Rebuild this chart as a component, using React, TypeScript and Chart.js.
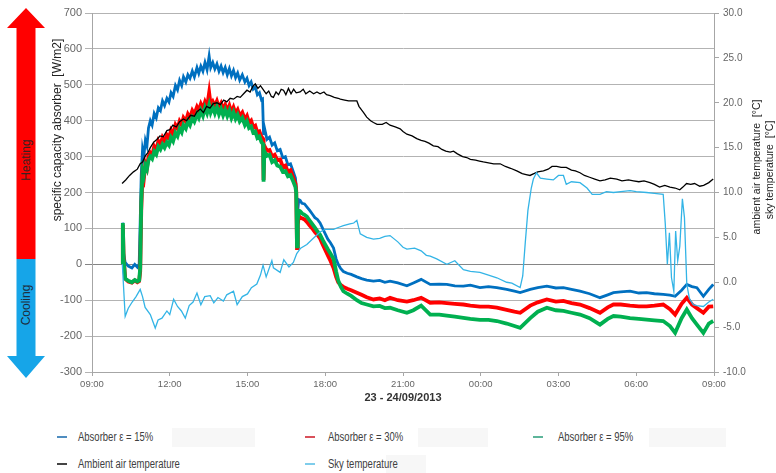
import React, { useEffect, useRef } from "react";
import { Chart, registerables } from "chart.js";

Chart.register(...registerables);

// ---- axis / label data ----
const TIME_LABELS = ["09:00", "12:00", "15:00", "18:00", "21:00", "00:00", "03:00", "06:00", "09:00"];
const X_TITLE = "23 - 24/09/2013";
const LEFT_TITLE = "specific capacity absorber  [W/m2]";
const RIGHT_TITLE_1 = "ambient air temperature  [°C]";
const RIGHT_TITLE_2 = "sky temperature  [°C]";
const SERIES_NAMES = ["Absorber ε = 15%", "Absorber ε = 30%", "Absorber ε = 95%", "Ambient air temperature", "Sky temperature"];

// ---- series: [clock hour (day 1 based), value] ----
const ABS15: [number, number][] = [
  [10.17, 0], [10.19, 116], [10.22, 30], [10.28, 5], [10.4, -5], [10.54, -10], [10.65, 0], [10.75, -8], [10.82, 0],
  [10.86, 120], [10.9, 250], [10.95, 320], [11.0, 300], [11.06, 345], [11.12, 330], [11.18, 380], [11.25, 400],
  [11.32, 388], [11.4, 420], [11.48, 408], [11.56, 436], [11.64, 428], [11.72, 455], [11.8, 442], [11.89, 462],
  [11.97, 452], [12.05, 478], [12.13, 468], [12.22, 498], [12.3, 486], [12.38, 512], [12.46, 498], [12.53, 522],
  [12.62, 508], [12.7, 528], [12.78, 518], [12.87, 538], [12.95, 522], [13.05, 548], [13.12, 532], [13.2, 552],
  [13.28, 538], [13.36, 562], [13.44, 542], [13.52, 580], [13.58, 548], [13.66, 562], [13.74, 544], [13.82, 558],
  [13.9, 538], [13.98, 552], [14.06, 534], [14.14, 548], [14.22, 528], [14.3, 545], [14.38, 525], [14.46, 540],
  [14.54, 520], [14.62, 533], [14.7, 513], [14.8, 528], [14.9, 508], [14.98, 518], [15.06, 498], [15.14, 508],
  [15.22, 488], [15.3, 494], [15.38, 472], [15.46, 478], [15.54, 458], [15.58, 460], [15.62, 360], [15.66, 378],
  [15.75, 348], [15.85, 354], [15.95, 332], [16.05, 338], [16.15, 316], [16.26, 320], [16.36, 297], [16.46, 300],
  [16.56, 277], [16.66, 280], [16.77, 257], [16.85, 240], [16.88, 215], [16.91, 60], [16.94, 150], [16.98, 180],
  [17.03, 178], [17.1, 170], [17.2, 168], [17.29, 160], [17.4, 150], [17.5, 140], [17.6, 130], [17.7, 125],
  [17.8, 115], [17.9, 100], [18.0, 85], [18.1, 70], [18.2, 60], [18.32, 45], [18.42, 15], [18.5, 0], [18.6, -12],
  [18.7, -20], [18.85, -25], [19.0, -28], [19.22, -35], [19.4, -40], [19.6, -44], [19.86, -47], [20.1, -45],
  [20.3, -50], [20.5, -47], [20.8, -52], [21.15, -60], [21.4, -52], [21.7, -42], [22.05, -56], [22.4, -55],
  [22.69, -56], [23.0, -60], [23.33, -61], [23.6, -58], [23.97, -65], [24.3, -62], [24.62, -65], [25.0, -70],
  [25.3, -75], [25.52, -79], [25.91, -70], [26.2, -65], [26.55, -61], [26.9, -66], [27.19, -65], [27.5, -70],
  [27.83, -75], [28.2, -82], [28.6, -93], [28.9, -85], [29.12, -79], [29.4, -77], [29.76, -75], [30.1, -80],
  [30.4, -79], [30.7, -82], [31.04, -84], [31.3, -86], [31.5, -89], [31.75, -72], [31.95, -56], [32.15, -62],
  [32.34, -65], [32.59, -89], [32.8, -70], [32.97, -56],
];

const ABS30: [number, number][] = [
  [10.17, 0], [10.19, 110], [10.22, 20], [10.28, -40], [10.4, -48], [10.54, -51], [10.65, -45], [10.75, -50], [10.82, -47],
  [10.86, -20], [10.9, 150], [10.95, 250], [11.0, 238], [11.06, 280], [11.12, 268], [11.18, 300], [11.25, 310],
  [11.32, 302], [11.4, 328], [11.48, 318], [11.56, 343], [11.64, 333], [11.72, 353], [11.8, 343], [11.89, 360],
  [11.97, 352], [12.05, 373], [12.13, 363], [12.22, 388], [12.3, 378], [12.38, 398], [12.46, 388], [12.53, 408],
  [12.62, 398], [12.7, 418], [12.78, 408], [12.87, 428], [12.95, 418], [13.05, 438], [13.12, 428], [13.2, 446],
  [13.28, 433], [13.36, 452], [13.44, 438], [13.52, 478], [13.58, 443], [13.66, 453], [13.74, 440], [13.82, 454],
  [13.9, 436], [13.98, 448], [14.06, 431], [14.14, 444], [14.22, 428], [14.3, 442], [14.38, 423], [14.46, 437],
  [14.54, 420], [14.62, 430], [14.7, 413], [14.8, 423], [14.9, 403], [14.98, 413], [15.06, 394], [15.14, 400],
  [15.22, 382], [15.3, 386], [15.38, 367], [15.46, 370], [15.54, 355], [15.6, 350], [15.62, 235], [15.65, 330],
  [15.75, 316], [15.85, 318], [15.95, 300], [16.05, 305], [16.15, 290], [16.26, 292], [16.36, 272], [16.46, 275],
  [16.56, 258], [16.66, 262], [16.77, 240], [16.85, 225], [16.88, 205], [16.91, 45], [16.94, 110], [16.98, 135],
  [17.03, 130], [17.1, 128], [17.2, 125], [17.29, 118], [17.4, 108], [17.5, 100], [17.6, 90], [17.7, 82],
  [17.8, 72], [17.9, 55], [18.0, 40], [18.1, 25], [18.2, 10], [18.32, -10], [18.42, -35], [18.5, -50], [18.6, -58],
  [18.7, -63], [18.85, -68], [19.0, -72], [19.22, -79], [19.4, -85], [19.6, -92], [19.86, -98], [20.1, -95],
  [20.3, -100], [20.5, -93], [20.8, -100], [21.15, -104], [21.4, -100], [21.7, -93], [22.05, -107], [22.4, -106],
  [22.69, -108], [23.0, -110], [23.33, -112], [23.6, -115], [23.97, -118], [24.3, -118], [24.62, -121], [25.0, -127],
  [25.3, -132], [25.52, -135], [25.91, -115], [26.2, -106], [26.55, -98], [26.9, -104], [27.19, -102], [27.5, -108],
  [27.83, -112], [28.2, -122], [28.6, -135], [28.9, -120], [29.12, -112], [29.4, -112], [29.76, -115], [30.1, -117],
  [30.4, -117], [30.7, -115], [31.04, -112], [31.3, -125], [31.5, -140], [31.75, -110], [31.95, -93], [32.15, -112],
  [32.34, -122], [32.59, -135], [32.8, -118], [32.97, -117],
];

const ABS95: [number, number][] = [
  [10.17, 0], [10.19, 115], [10.22, 15], [10.28, -40], [10.4, -46], [10.54, -50], [10.65, -44], [10.75, -48], [10.82, -45],
  [10.86, -10], [10.9, 170], [10.95, 260], [11.0, 248], [11.06, 275], [11.12, 265], [11.18, 290], [11.25, 300],
  [11.32, 294], [11.4, 314], [11.48, 306], [11.56, 328], [11.64, 320], [11.72, 334], [11.8, 325], [11.89, 340],
  [11.97, 332], [12.05, 353], [12.13, 343], [12.22, 366], [12.3, 357], [12.38, 378], [12.46, 368], [12.53, 388],
  [12.62, 378], [12.7, 398], [12.78, 388], [12.87, 408], [12.95, 398], [13.05, 418], [13.12, 408], [13.2, 428],
  [13.28, 414], [13.36, 436], [13.44, 421], [13.52, 443], [13.58, 423], [13.66, 438], [13.74, 421], [13.82, 438],
  [13.9, 418], [13.98, 433], [14.06, 415], [14.14, 430], [14.22, 413], [14.3, 428], [14.38, 408], [14.46, 423],
  [14.54, 405], [14.62, 416], [14.7, 398], [14.8, 408], [14.9, 388], [14.98, 398], [15.06, 380], [15.14, 384],
  [15.22, 367], [15.3, 370], [15.38, 352], [15.46, 356], [15.54, 340], [15.6, 335], [15.62, 230], [15.65, 315],
  [15.75, 302], [15.85, 305], [15.95, 285], [16.05, 290], [16.15, 275], [16.26, 272], [16.36, 258], [16.46, 260],
  [16.56, 245], [16.66, 248], [16.77, 230], [16.85, 215], [16.88, 200], [16.91, 50], [16.94, 125], [16.98, 150],
  [17.03, 148], [17.1, 142], [17.2, 138], [17.29, 133], [17.4, 122], [17.5, 112], [17.6, 102], [17.7, 92],
  [17.8, 82], [17.9, 68], [18.0, 55], [18.1, 42], [18.2, 30], [18.32, 15], [18.42, -20], [18.5, -45], [18.6, -62],
  [18.7, -75], [18.85, -82], [19.0, -88], [19.22, -100], [19.4, -108], [19.6, -112], [19.86, -117], [20.1, -116],
  [20.3, -122], [20.5, -121], [20.8, -128], [21.15, -135], [21.4, -128], [21.7, -115], [22.05, -140], [22.4, -140],
  [22.69, -143], [23.0, -146], [23.33, -149], [23.6, -152], [23.97, -155], [24.3, -155], [24.62, -158], [25.0, -165],
  [25.3, -172], [25.52, -177], [25.91, -150], [26.2, -132], [26.55, -121], [26.9, -128], [27.19, -130], [27.5, -135],
  [27.83, -140], [28.2, -150], [28.6, -168], [28.9, -152], [29.12, -144], [29.4, -146], [29.76, -150], [30.1, -152],
  [30.4, -154], [30.7, -156], [31.04, -158], [31.3, -172], [31.5, -191], [31.75, -150], [31.95, -126], [32.15, -150],
  [32.34, -168], [32.59, -191], [32.8, -165], [32.97, -158],
];

const AMBIENT: [number, number][] = [
  [10.16, 11.0], [10.3, 11.4], [10.45, 11.9], [10.6, 12.3], [10.75, 12.6], [10.86, 13.2], [10.95, 13.4], [11.06, 14.1],
  [11.15, 14.4], [11.25, 15.0], [11.38, 15.6], [11.5, 15.9], [11.62, 16.3], [11.75, 16.2], [11.89, 16.9], [12.0, 17.0],
  [12.12, 17.5], [12.25, 17.3], [12.38, 17.9], [12.53, 18.2], [12.65, 18.0], [12.8, 18.6], [12.95, 18.5], [13.05, 19.0],
  [13.18, 19.3], [13.3, 18.9], [13.42, 19.6], [13.55, 19.4], [13.68, 19.9], [13.82, 20.0], [13.95, 19.8], [14.08, 20.3],
  [14.2, 20.1], [14.33, 20.5], [14.46, 20.4], [14.6, 20.7], [14.72, 20.6], [14.85, 21.0], [14.98, 21.4], [15.1, 21.2],
  [15.2, 21.8], [15.3, 22.1], [15.4, 21.6], [15.5, 21.9], [15.62, 21.4], [15.72, 21.0], [15.82, 21.3], [15.92, 20.7],
  [16.0, 20.6], [16.1, 21.2], [16.2, 20.9], [16.3, 21.5], [16.39, 21.4], [16.48, 20.9], [16.58, 21.6], [16.68, 21.0],
  [16.78, 21.5], [16.88, 21.1], [17.03, 21.2], [17.15, 21.5], [17.25, 21.0], [17.4, 21.3], [17.55, 21.0], [17.68, 21.2],
  [17.8, 21.0], [17.95, 21.2], [18.05, 20.9], [18.19, 20.8], [18.35, 20.6], [18.5, 20.5], [18.58, 20.4], [18.75, 20.3],
  [18.9, 20.2], [19.05, 20.2], [19.22, 20.2], [19.3, 19.6], [19.4, 19.2], [19.48, 18.9], [19.6, 18.4], [19.75, 18.0],
  [19.86, 17.8], [20.0, 17.6], [20.2, 17.6], [20.35, 17.8], [20.5, 17.5], [20.7, 17.3], [20.89, 17.1], [21.0, 16.8],
  [21.15, 16.5], [21.35, 16.3], [21.53, 16.0], [21.7, 15.8], [21.85, 15.7], [22.0, 15.5], [22.17, 15.2], [22.35, 15.1],
  [22.5, 14.8], [22.65, 14.6], [22.82, 14.5], [22.95, 14.6], [23.1, 14.3], [23.3, 14.0], [23.46, 13.9], [23.6, 13.7],
  [23.8, 13.6], [23.95, 13.5], [24.1, 13.4], [24.3, 13.3], [24.5, 13.2], [24.75, 13.2], [24.95, 12.9], [25.15, 12.7],
  [25.39, 12.4], [25.6, 12.1], [25.75, 12.0], [25.9, 11.9], [26.05, 12.1], [26.2, 12.3], [26.42, 12.4], [26.6, 12.6],
  [26.75, 12.9], [26.93, 12.9], [27.1, 12.8], [27.3, 12.8], [27.5, 12.5], [27.65, 12.4], [27.83, 12.2], [28.0, 11.9],
  [28.2, 11.7], [28.4, 11.5], [28.6, 11.3], [28.8, 11.4], [29.0, 11.6], [29.25, 11.5], [29.45, 11.3], [29.7, 11.4],
  [29.89, 11.3], [30.1, 11.2], [30.3, 11.3], [30.53, 11.1], [30.7, 10.9], [30.9, 10.6], [31.1, 10.8], [31.3, 10.6],
  [31.5, 10.5], [31.68, 10.3], [31.8, 10.6], [31.94, 11.0], [32.1, 10.9], [32.25, 11.0], [32.45, 10.7], [32.6, 10.8],
  [32.8, 11.1], [32.97, 11.5],
];

const SKY: [number, number][] = [
  [10.17, 2.0], [10.28, -3.8], [10.4, -2.9], [10.55, -2.2], [10.7, -1.6], [10.86, -0.8], [10.95, -1.6], [11.05, -2.8],
  [11.25, -3.6], [11.44, -5.1], [11.55, -4.2], [11.7, -4.0], [11.89, -3.2], [12.0, -3.6], [12.15, -1.9], [12.3, -2.7],
  [12.45, -3.2], [12.6, -4.0], [12.75, -2.6], [12.9, -2.2], [13.05, -1.2], [13.2, -2.5], [13.35, -1.6], [13.56, -1.5],
  [13.7, -2.3], [13.86, -1.7], [14.07, -2.1], [14.2, -1.4], [14.46, -1.0], [14.6, -2.5], [14.8, -1.6], [15.0, -1.3],
  [15.15, -0.6], [15.36, -0.2], [15.5, 0.8], [15.6, 1.9], [15.72, 0.6], [15.94, 2.4], [16.0, 1.6], [16.26, 1.1],
  [16.4, 2.5], [16.6, 1.7], [16.77, 2.2], [16.9, 3.2], [17.05, 3.8], [17.29, 4.2], [17.5, 4.8], [17.8, 5.6],
  [18.0, 5.9], [18.32, 5.9], [18.5, 6.1], [18.7, 6.3], [18.95, 6.5], [19.1, 6.6], [19.22, 6.9], [19.35, 5.4],
  [19.6, 5.0], [19.86, 4.8], [20.1, 4.9], [20.3, 5.1], [20.5, 5.2], [20.8, 4.5], [21.0, 3.9], [21.15, 3.7],
  [21.45, 3.8], [21.7, 3.5], [21.9, 3.0], [22.05, 2.9], [22.3, 2.6], [22.69, 2.0], [23.0, 2.4], [23.33, 1.4],
  [23.6, 1.2], [23.97, 1.1], [24.3, 0.8], [24.62, 0.5], [25.0, 0.0], [25.2, -0.1], [25.52, -0.6], [25.62, 0.7],
  [25.72, 4.5], [25.82, 8.0], [25.95, 10.5], [26.03, 11.5], [26.15, 12.2], [26.3, 11.6], [26.55, 11.5], [26.8, 11.4],
  [27.0, 11.9], [27.19, 11.9], [27.3, 10.9], [27.5, 11.2], [27.83, 11.1], [28.1, 10.5], [28.3, 9.8], [28.6, 9.8],
  [28.85, 10.1], [29.12, 10.0], [29.4, 10.1], [29.76, 10.2], [30.0, 10.1], [30.4, 10.0], [30.7, 9.9], [31.04, 9.8],
  [31.12, 6.5], [31.2, 2.0], [31.28, 5.5], [31.36, 0.5], [31.45, -1.0], [31.52, 5.7], [31.6, 2.4], [31.68, 4.0],
  [31.78, 9.3], [31.86, 7.2], [31.95, -0.2], [32.05, -1.8], [32.2, -2.5], [32.34, -2.6], [32.59, -2.7], [32.8, -2.2],
  [32.97, -1.9],
];

const COLORS = ["#0070C0", "#FF0000", "#00B050", "#000000", "#33B4E6"];
const LEGEND_MARK = ["#4F8DC0", "#D9505A", "#5DB59A", "#444444", "#7FCDEB"];

const toXY = (a: [number, number][]) => a.map(([x, y]) => ({ x, y }));

const FONT = "'Liberation Sans', Arial, sans-serif";

export default function App() {
  const ref = useRef<HTMLCanvasElement | null>(null);

  useEffect(() => {
    if (!ref.current) return;
    const mk = (i: number, data: [number, number][], axis: string, width: number, order: number) => ({
      label: SERIES_NAMES[i],
      data: toXY(data),
      yAxisID: axis,
      borderColor: COLORS[i],
      backgroundColor: COLORS[i],
      borderWidth: width,
      pointRadius: 0,
      tension: 0,
      fill: false,
      order,
    });
    const chart = new Chart(ref.current, {
      type: "line",
      data: {
        datasets: [
          mk(0, ABS15, "y", 2.8, 5),
          mk(1, ABS30, "y", 3.8, 4),
          mk(2, ABS95, "y", 3.8, 3),
          mk(3, AMBIENT, "y1", 1.3, 2),
          mk(4, SKY, "y1", 1.3, 1),
        ],
      },
      options: {
        responsive: false,
        animation: false,
        devicePixelRatio: 1,
        layout: { padding: { top: 13, left: 0, right: 0, bottom: 0 } },
        plugins: { legend: { display: false }, tooltip: { enabled: false } },
        scales: {
          x: {
            type: "linear",
            min: 9,
            max: 33,
            afterFit: (s: any) => { s.height = 38; },
            ticks: {
              stepSize: 3,
              autoSkip: false,
              maxRotation: 0,
              padding: 3,
              color: "#666666",
              font: { family: FONT, size: 9.5 },
              callback: (v: any) => TIME_LABELS[Math.round((Number(v) - 9) / 3)] ?? "",
            },
            grid: { drawOnChartArea: false, drawTicks: true, tickLength: 4, color: "#A6A6A6" },
            border: { color: "#A6A6A6", width: 1 },
            title: {
              display: true,
              text: X_TITLE,
              color: "#333333",
              font: { family: FONT, size: 11, weight: "bold" },
              padding: { top: 0, bottom: 5 },
            },
          },
          y: {
            type: "linear",
            position: "left",
            min: -300,
            max: 700,
            afterFit: (s: any) => { s.width = 92; },
            ticks: {
              stepSize: 100,
              padding: 3,
              color: "#666666",
              font: { family: FONT, size: 11 },
            },
            grid: {
              drawTicks: true,
              tickLength: 7,
              color: (c: any) => (c.tick && c.tick.value === 0 ? "#858585" : "#B3B3B3"),
              lineWidth: 1,
            },
            border: { color: "#A6A6A6", width: 1 },
          },
          y1: {
            type: "linear",
            position: "right",
            min: -10,
            max: 30,
            afterFit: (s: any) => { s.width = 62; },
            ticks: {
              stepSize: 5,
              padding: 4,
              color: "#666666",
              font: { family: FONT, size: 10 },
              callback: (v: any) => Number(v).toFixed(1),
            },
            grid: { drawOnChartArea: false, drawTicks: true, tickLength: 5, color: "#A6A6A6" },
            border: { color: "#A6A6A6", width: 1 },
          },
        },
      } as any,
    });
    return () => chart.destroy();
  }, []);

  const rot = (text: string, cx: number, cy: number, size: number, color: string) => (
    <div
      style={{
        position: "absolute",
        left: cx,
        top: cy,
        transform: "translate(-50%, -50%) rotate(-90deg)",
        whiteSpace: "pre",
        fontFamily: FONT,
        fontSize: size,
        color,
        lineHeight: 1,
      }}
    >
      {text}
    </div>
  );

  const legendItem = (i: number, mx: number, tx: number, cy: number) => (
    <React.Fragment key={i}>
      <div style={{ position: "absolute", left: mx, top: cy - 1, width: 10, height: 2, background: LEGEND_MARK[i] }} />
      <div
        style={{
          position: "absolute",
          left: tx,
          top: cy,
          transform: "translateY(-50%) scaleX(0.76)",
          transformOrigin: "left center",
          whiteSpace: "pre",
          fontFamily: FONT,
          fontSize: 12.5,
          color: "#404040",
          lineHeight: 1,
        }}
      >
        {SERIES_NAMES[i]}
      </div>
    </React.Fragment>
  );

  const box = (l: number, t: number, w: number, h: number) => (
    <div style={{ position: "absolute", left: l, top: t, width: w, height: h, background: "#F7F7F7" }} />
  );

  return (
    <div style={{ position: "absolute", left: 0, top: 0, width: 776, height: 473, background: "#FFFFFF", overflow: "hidden" }}>
      <svg width={60} height={390} style={{ position: "absolute", left: 0, top: 0 }}>
        <polygon points="26,8 45,28 35.5,28 35.5,259 16.5,259 16.5,28 7,28" fill="#FF0000" />
        <polygon points="16.5,259 35.5,259 35.5,356 45,356 26,378 7,356 16.5,356" fill="#16A5E8" />
      </svg>
      {rot("Heating", 26, 160, 12, "#3A2020")}
      {rot("Cooling", 26, 305, 12, "#1E2E40")}
      <canvas ref={ref} width={776} height={410} style={{ position: "absolute", left: 0, top: 0, display: "block" }} />
      {rot(LEFT_TITLE, 57, 130, 12, "#222222")}
      {rot(RIGHT_TITLE_1, 756, 167, 10.5, "#222222")}
      {rot(RIGHT_TITLE_2, 769, 170, 10.5, "#222222")}
      {box(172, 428, 83, 19)}
      {box(418, 428, 70, 19)}
      {box(649, 428, 77, 19)}
      {box(386, 455, 40, 19)}
      {legendItem(0, 57, 78, 437)}
      {legendItem(1, 305, 328, 437)}
      {legendItem(2, 533, 558, 437)}
      {legendItem(3, 57, 78, 464)}
      {legendItem(4, 305, 328, 464)}
    </div>
  );
}
